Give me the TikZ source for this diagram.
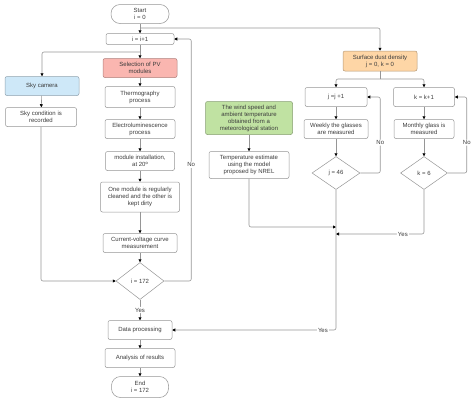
\documentclass[tikz,border=0pt]{standalone}
\usepackage{fontspec}
\setmainfont{Liberation Sans}
\usetikzlibrary{arrows.meta,shapes.geometric}
\definecolor{sc}{RGB}{250,182,176}
\definecolor{bc}{RGB}{206,232,248}
\definecolor{oc}{RGB}{254,214,166}
\definecolor{gc}{RGB}{192,226,162}
\definecolor{ln}{RGB}{150,150,150}
\definecolor{tx}{RGB}{60,60,60}
\tikzset{box/.style={draw=ln,fill=white,rounded corners=2pt,align=center,inner sep=1pt,text=tx,line width=.5pt},
 sbox/.style={box,fill=sc,draw=sc!70!black},bbox/.style={box,fill=bc,draw=bc!70!black},
 obox/.style={box,fill=oc,draw=oc!70!black},gbox/.style={box,fill=gc,draw=gc!70!black},
 term/.style={box,rounded corners=9pt},
 dec/.style={draw=ln,fill=white,diamond,inner sep=0pt,text=tx,line width=.5pt},
 wire/.style={draw=ln,line width=.6pt,rounded corners=2pt},
 arr/.style={wire,-{Triangle[length=3pt,width=3pt,color=black]}},
 lab/.style={fill=white,inner sep=1pt,text=tx},
 every node/.style={font=\fontsize{6}{7}\selectfont}}
\begin{document}
\begin{tikzpicture}[x=1pt,y=-1pt]
\useasboundingbox (0,0) rectangle (474,402);
% left column
\node[term,minimum width=58,minimum height=19] (start) at (140,14) {Start\\i = 0};
\node[box,minimum width=68,minimum height=11] (inc) at (140,39) {i = i+1};
\node[sbox,minimum width=74,minimum height=19] (sel) at (140,68) {Selection of PV\\modules};
\node[bbox,minimum width=74,minimum height=19] (sky) at (42,86) {Sky camera};
\node[box,minimum width=71,minimum height=19] (cond) at (41,117) {Sky condition is\\recorded};
\node[box,minimum width=70,minimum height=21] (thermo) at (140,97) {Thermography\\process};
\node[box,minimum width=70,minimum height=19] (elec) at (140,129) {Electroluminescence\\process};
\node[box,minimum width=69,minimum height=19] (inst) at (140,161) {module installation,\\at 20º};
\node[box,minimum width=79,minimum height=30] (clean) at (140,197) {One module is regularly\\cleaned and the other is\\kept dirty};
\node[box,minimum width=74,minimum height=19] (iv) at (140,243) {Current-voltage curve\\measurement};
\node[dec,minimum width=48,minimum height=37] (d1) at (140,281) {i = 172};
\node[box,minimum width=64,minimum height=19] (data) at (140,330) {Data processing};
\node[box,minimum width=70,minimum height=19] (anal) at (140,358) {Analysis of results};
\node[term,minimum width=57,minimum height=21] (end) at (140,387) {End\\i = 172};
% right side
\node[obox,minimum width=74,minimum height=20] (dust) at (380,61) {Surface dust density\\j = 0, k = 0};
\node[box,minimum width=62,minimum height=19] (jinc) at (336,97) {j =j +1};
\node[box,minimum width=61,minimum height=19] (kinc) at (424,97) {k = k+1};
\node[box,minimum width=64,minimum height=19] (week) at (336,129) {Weekly the glasses\\are measured};
\node[box,minimum width=60,minimum height=19] (month) at (424,129) {Monthly glass is\\measured};
\node[dec,minimum width=48,minimum height=33] (d2) at (336,173) {j = 46};
\node[dec,minimum width=47,minimum height=33] (d3) at (424,173) {k = 6};
\node[gbox,minimum width=87,minimum height=33] (wind) at (249,118) {The wind speed and\\ambient temperature\\obtained from a\\meteorological station};
\node[box,minimum width=80,minimum height=27] (temp) at (249,165) {Temperature estimate\\using the model\\proposed by NREL};
\coordinate (s1) at (140,28);
\coordinate (b1) at (140,52);
\coordinate (b2) at (380,79);
\coordinate (m1) at (336,227);
\coordinate (m2) at (336,234);
% connectors
\draw[arr] (start) -- (inc);
\draw[arr] (s1) -| (dust);
\draw[arr] (inc) -- (sel);
\draw[arr] (b1) -| (sky);
\draw[arr] (sky) -- (cond);
\draw[arr] (cond) |- (d1);
\draw[arr] (sel) -- (thermo);
\draw[arr] (thermo) -- (elec);
\draw[arr] (elec) -- (inst);
\draw[arr] (inst) -- (clean);
\draw[arr] (clean) -- (iv);
\draw[arr] (iv) -- (d1);
\draw[arr] (d1) -- node[lab]{Yes} (data);
\draw[arr] (data) -- (anal);
\draw[arr] (anal) -- (end);
\draw[arr] (d1.east) -- ++(27,0) |- node[lab,pos=.24]{No} (inc.east);
\draw[wire] (dust) -- (b2);
\draw[arr] (b2) -| (jinc);
\draw[arr] (b2) -| (kinc);
\draw[arr] (jinc) -- (week);
\draw[arr] (week) -- (d2);
\draw[arr] (kinc) -- (month);
\draw[arr] (month) -- (d3);
\draw[arr] (d2.east) -- ++(20,0) |- node[lab,pos=.2]{No} (jinc.east);
\draw[arr] (d3.east) -- ++(19,0) |- node[lab,pos=.2]{No} (kinc.east);
\draw[arr] (wind) -- (temp);
\draw[arr] (temp) |- (m1);
\draw[arr] (d3) |- node[lab,pos=.62]{Yes} (m2);
\draw[arr] (d2) |- node[lab,pos=.54]{Yes} (data.east);
\end{tikzpicture}
\end{document}
